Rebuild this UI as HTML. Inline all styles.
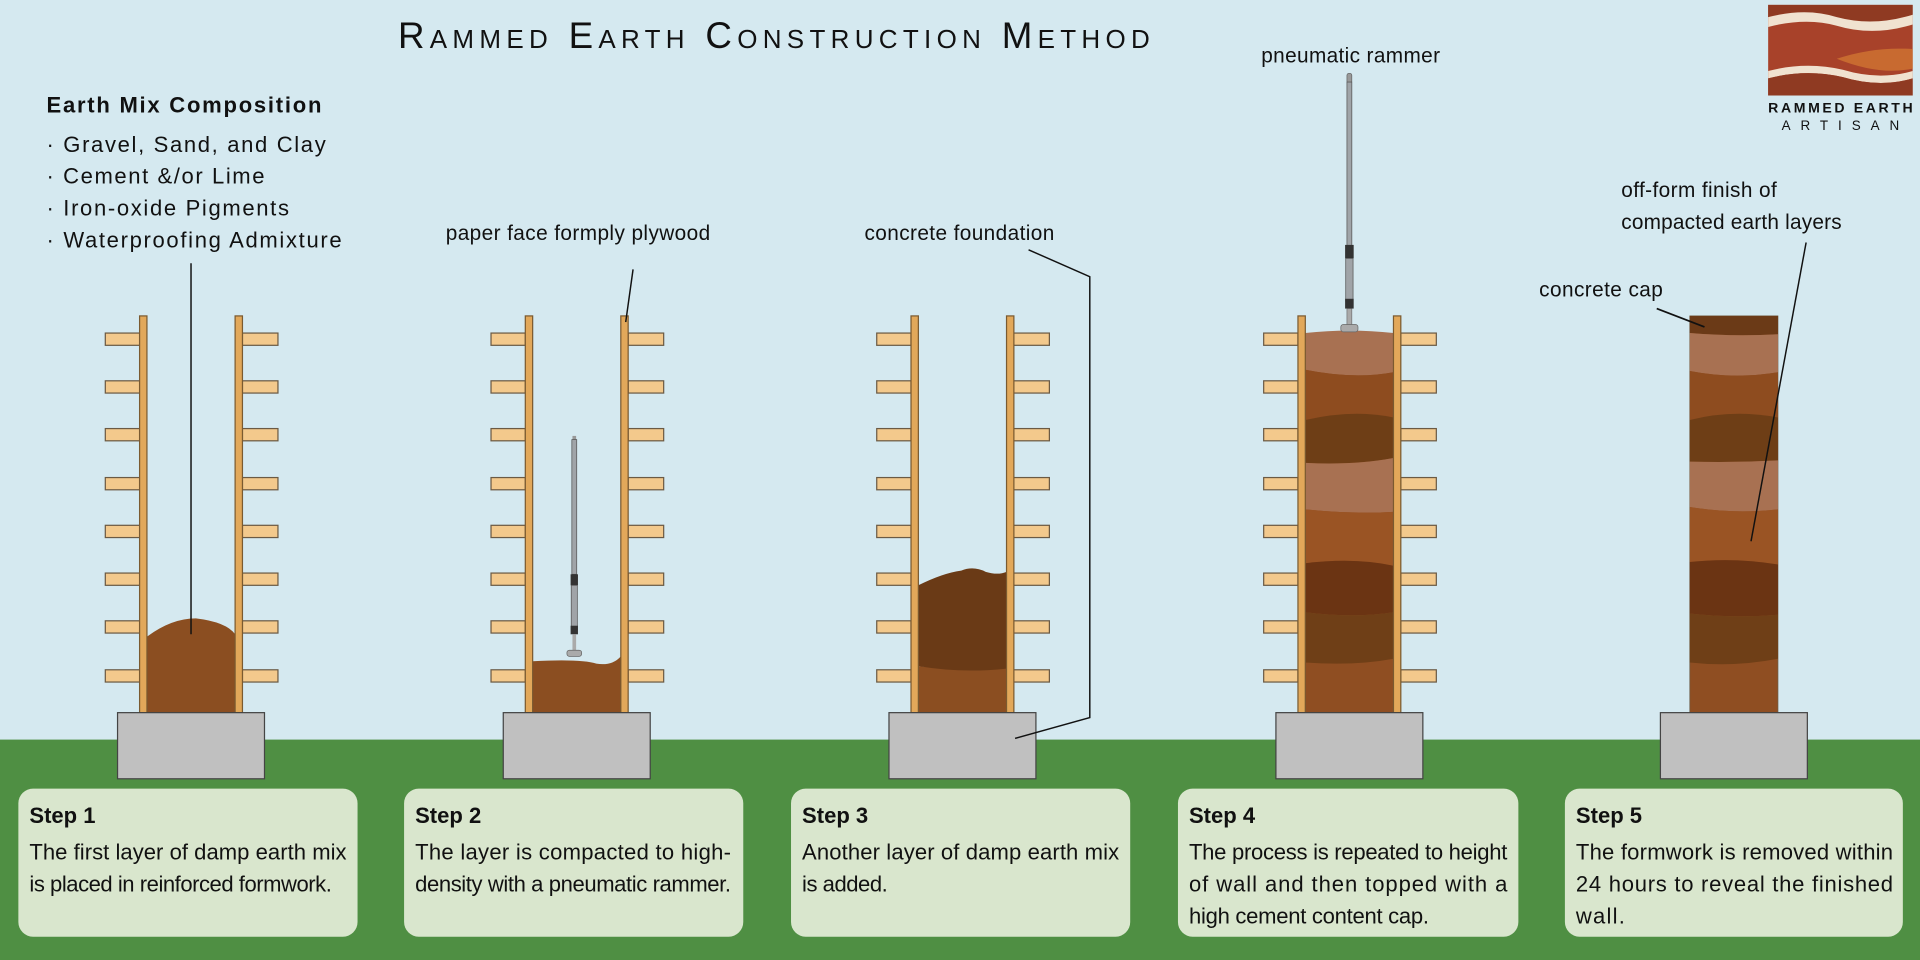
<!DOCTYPE html>
<html><head><meta charset="utf-8"><style>
html,body{margin:0;padding:0;background:#d5e9f0;}
svg{display:block;}
text{font-family:"Liberation Sans Narrow","Liberation Sans",sans-serif;fill:#111;}
</style></head><body>
<svg width="1920" height="960" viewBox="0 0 1568 784" xmlns="http://www.w3.org/2000/svg">
<defs>
<g id="rails">
  <g fill="#f3c98c" stroke="#6b5a44" stroke-width="1">
    <rect x="86" y="272" width="28" height="10"/><rect x="198" y="272" width="29" height="10"/>
    <rect x="86" y="311" width="28" height="10"/><rect x="198" y="311" width="29" height="10"/>
    <rect x="86" y="350" width="28" height="10"/><rect x="198" y="350" width="29" height="10"/>
    <rect x="86" y="390" width="28" height="10"/><rect x="198" y="390" width="29" height="10"/>
    <rect x="86" y="429" width="28" height="10"/><rect x="198" y="429" width="29" height="10"/>
    <rect x="86" y="468" width="28" height="10"/><rect x="198" y="468" width="29" height="10"/>
    <rect x="86" y="507" width="28" height="10"/><rect x="198" y="507" width="29" height="10"/>
    <rect x="86" y="547" width="28" height="10"/><rect x="198" y="547" width="29" height="10"/>
  </g>
</g>
<g id="posts" fill="#e2a85a" stroke="#7a5a30" stroke-width="1">
  <rect x="114" y="258" width="6" height="324"/>
  <rect x="192" y="258" width="6" height="324"/>
</g>
<g id="found"><rect x="96" y="582" width="120" height="54" fill="#c0c0c0" stroke="#444" stroke-width="1"/></g>
<g id="rammer">
  <rect x="-1.5" y="0" width="3" height="4" fill="#999"/>
  <rect x="-2" y="3" width="4" height="110" fill="#a0a4a8" stroke="#555" stroke-width="0.6"/>
  <rect x="-3" y="113" width="6" height="9" fill="#333"/>
  <rect x="-2.5" y="122" width="5" height="36" fill="#a0a4a8" stroke="#555" stroke-width="0.6"/>
  <rect x="-3" y="155" width="6" height="7" fill="#333"/>
  <rect x="-1.5" y="162" width="3" height="14" fill="#aaa"/>
  <rect x="-6" y="175" width="12" height="5" rx="2" fill="#aaa" stroke="#666" stroke-width="0.6"/>
</g>
</defs>
<rect width="1568" height="784" fill="#d5e9f0"/>
<rect y="604" width="1568" height="180" fill="#4f8f43"/>

<!-- Title -->
<text x="325" y="39" style="font-family:'Liberation Sans',sans-serif;font-variant:small-caps;letter-spacing:1px" font-size="30" fill="#222" textLength="615">Rammed Earth Construction Method</text>

<!-- Earth mix -->
<text x="38" y="92" font-size="18" font-weight="bold" textLength="225" style="letter-spacing:0.5px">Earth Mix Composition</text>
<g font-size="18" style="letter-spacing:1px">
<text x="38" y="124" textLength="229">· Gravel, Sand, and Clay</text>
<text x="38" y="150" textLength="179">· Cement &amp;/or Lime</text>
<text x="38" y="176" textLength="199">· Iron-oxide Pigments</text>
<text x="38" y="202" textLength="242">· Waterproofing Admixture</text>
</g>

<!-- Step 1 -->
<use href="#rails"/>
<path d="M120 520 Q140 505 160 505 Q185 508 192 518 L192 582 L120 582 Z" fill="#8b4e21"/>
<use href="#posts"/><use href="#found"/>
<line x1="156" y1="215" x2="156" y2="518" stroke="#111" stroke-width="1.2"/>

<!-- Step 2 -->
<g transform="translate(315,0)">
<use href="#rails"/>
<path d="M120 540 Q160 538 172 542 Q185 544 192 536 L192 582 L120 582 Z" fill="#8b4e21"/>
<use href="#posts"/><use href="#found"/>
<use href="#rammer" transform="translate(154,356)"/>
</g>
<text x="364" y="196" font-size="17" textLength="216">paper face formply plywood</text>
<line x1="517" y1="220" x2="511" y2="263" stroke="#111" stroke-width="1.2"/>

<!-- Step 3 -->
<g transform="translate(630,0)">
<use href="#rails"/>
<path d="M120 544 Q156 548 192 542 L192 582 L120 582 Z" fill="#8b4e21"/>
<path d="M120 478 Q140 468 155 466 Q165 462 175 467 Q185 470 192 467 L192 546 Q156 550 120 544 Z" fill="#6a3a16"/>
<use href="#posts"/><use href="#found"/>
</g>
<text x="706" y="196" font-size="17" textLength="155">concrete foundation</text>
<polyline points="840,204 890,226 890,586 829,603" fill="none" stroke="#111" stroke-width="1.2"/>

<!-- Step 4 -->
<g transform="translate(946,0)">
<use href="#rails"/>
<g>
<rect x="120" y="272" width="72" height="310" fill="#8f4e22"/>
<path d="M120 272 Q156 268 192 272 L192 304 Q160 310 120 302 Z" fill="#a87152"/>
<path d="M120 302 Q160 310 192 304 L192 341 Q160 334 120 343 Z" fill="#8e4c1f"/>
<path d="M120 343 Q160 334 192 341 L192 374 Q160 380 120 378 Z" fill="#6e3e16"/>
<path d="M120 378 Q160 380 192 374 L192 418 Q160 420 120 416 Z" fill="#a87152"/>
<path d="M120 416 Q160 420 192 418 L192 462 Q160 455 120 460 Z" fill="#9a5424"/>
<path d="M120 460 Q160 455 192 462 L192 500 Q160 505 120 500 Z" fill="#6b3413"/>
<path d="M120 500 Q160 505 192 500 L192 538 Q160 544 120 541 Z" fill="#6f3f17"/>
</g>
<use href="#posts"/><use href="#found"/>
</g>
<g transform="translate(1102,0)">
  <rect x="-2" y="60" width="4" height="8" rx="1.5" fill="#999" stroke="#555" stroke-width="0.5"/>
  <rect x="-2" y="67" width="4" height="134" fill="#a0a4a8" stroke="#555" stroke-width="0.6"/>
  <rect x="-3.5" y="200" width="7" height="11" fill="#333"/>
  <rect x="-3" y="211" width="6" height="35" fill="#a0a4a8" stroke="#555" stroke-width="0.6"/>
  <rect x="-3.5" y="244" width="7" height="8" fill="#333"/>
  <rect x="-2" y="252" width="4" height="14" fill="#aaa" stroke="#666" stroke-width="0.5"/>
  <rect x="-7" y="265" width="14" height="6" rx="2" fill="#aaa" stroke="#666" stroke-width="0.6"/>
</g>
<text x="1030" y="51" font-size="17" textLength="146">pneumatic rammer</text>

<!-- Step 5 -->
<g>
<rect x="1380" y="258" width="72" height="324" fill="#8f4e22" stroke="#6b5a44" stroke-width="0.6"/>
<path d="M1380 258 L1452 258 L1452 273 Q1416 275 1380 272 Z" fill="#6b3a17"/>
<path d="M1380 272 Q1416 275 1452 273 L1452 304 Q1416 310 1380 303 Z" fill="#a87152"/>
<path d="M1380 303 Q1416 310 1452 304 L1452 341 Q1416 334 1380 343 Z" fill="#8e4c1f"/>
<path d="M1380 343 Q1416 334 1452 341 L1452 376 Q1416 378 1380 377 Z" fill="#6e3e16"/>
<path d="M1380 377 Q1416 378 1452 376 L1452 416 Q1416 420 1380 414 Z" fill="#a87152"/>
<path d="M1380 414 Q1416 420 1452 416 L1452 461 Q1416 455 1380 459 Z" fill="#9a5424"/>
<path d="M1380 459 Q1416 455 1452 461 L1452 502 Q1416 505 1380 501 Z" fill="#6b3413"/>
<path d="M1380 501 Q1416 505 1452 502 L1452 538 Q1416 545 1380 541 Z" fill="#6f3f17"/>
<g transform="translate(1260,0)"><use href="#found"/></g>
</g>
<text x="1324" y="161" font-size="17" textLength="127">off-form finish of</text>
<text x="1324" y="187" font-size="17" textLength="180">compacted earth layers</text>
<line x1="1475" y1="198" x2="1430" y2="442" stroke="#111" stroke-width="1.2"/>
<text x="1257" y="242" font-size="17" textLength="101">concrete cap</text>
<line x1="1353" y1="252" x2="1392" y2="267" stroke="#111" stroke-width="1.4"/>

<!-- Logo -->
<g>
<rect x="1444" y="4" width="118" height="74" fill="#a8422a"/>
<path d="M1444 4 L1562 4 L1562 12 Q1530 22 1500 14 Q1475 8 1444 14 Z" fill="#8f3a22"/>
<path d="M1444 14 Q1475 6 1500 14 Q1530 22 1562 12 L1562 20 Q1530 30 1500 21 Q1475 14 1444 22 Z" fill="#f0e2d0"/>
<path d="M1444 58 Q1475 50 1505 57 Q1535 66 1562 58 L1562 64 Q1535 72 1505 63 Q1475 56 1444 64 Z" fill="#f0e2d0"/>
<path d="M1444 64 Q1475 56 1505 63 Q1535 72 1562 64 L1562 78 L1444 78 Z" fill="#8f3a22"/>
<path d="M1500 48 Q1530 38 1562 40 L1562 56 Q1535 62 1500 48 Z" fill="#c86a30"/>
<text x="1444" y="92" font-size="11.5" font-weight="bold" style="font-family:'Liberation Sans',sans-serif" textLength="118">RAMMED EARTH</text>
<text x="1455" y="106" font-size="11" style="font-family:'Liberation Sans',sans-serif" textLength="96">ARTISAN</text>
</g>

<!-- Cards -->
<g fill="#d9e6cd">
<rect x="15" y="644" width="277" height="121" rx="12"/>
<rect x="330" y="644" width="277" height="121" rx="12"/>
<rect x="646" y="644" width="277" height="121" rx="12"/>
<rect x="962" y="644" width="278" height="121" rx="12"/>
<rect x="1278" y="644" width="276" height="121" rx="12"/>
</g>
<g font-size="18" font-weight="bold">
<text x="24" y="672">Step 1</text>
<text x="339" y="672">Step 2</text>
<text x="655" y="672">Step 3</text>
<text x="971" y="672">Step 4</text>
<text x="1287" y="672">Step 5</text>
</g>
<g font-size="18">
<text x="24" y="702" textLength="259">The first layer of damp earth mix</text>
<text x="24" y="728" textLength="247">is placed in reinforced formwork.</text>
<text x="339" y="702" textLength="258">The layer is compacted to high-</text>
<text x="339" y="728" textLength="258">density with a pneumatic rammer.</text>
<text x="655" y="702" textLength="259">Another layer of damp earth mix</text>
<text x="655" y="728" textLength="70">is added.</text>
<text x="971" y="702" textLength="260">The process is repeated to height</text>
<text x="971" y="728" textLength="260">of wall and then topped with a</text>
<text x="971" y="754" textLength="196">high cement content cap.</text>
<text x="1287" y="702" textLength="259">The formwork is removed within</text>
<text x="1287" y="728" textLength="259">24 hours to reveal the finished</text>
<text x="1287" y="754" textLength="40">wall.</text>
</g>
</svg>
</body></html>
